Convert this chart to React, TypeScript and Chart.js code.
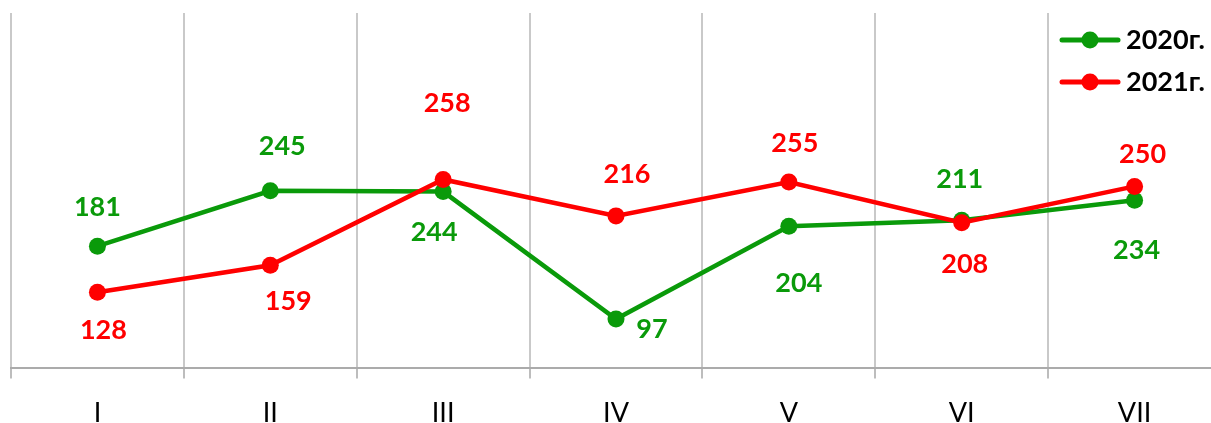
import React, { useEffect, useRef } from "react";
import { Chart, registerables } from "chart.js";

Chart.register(...registerables);

const categories = ["I", "II", "III", "IV", "V", "VI", "VII"];
const series2020 = [181, 245, 244, 97, 204, 211, 234];
const series2021 = [128, 159, 258, 216, 255, 208, 250];
const seriesNames = ["2020г.", "2021г."];

const GREEN = "#0a9a0a";
const RED = "#ff0000";
const FONT = "Lato, 'Open Sans', sans-serif";

// label placement (style): offset from point in px
const labelOffsets2020 = [[0, -39], [12, -44], [-9, 41], [36, 10], [10, 57], [-2, -41], [2, 50]];
const labelOffsets2021 = [[6, 38], [18, 36], [4, -76], [11, -42], [6, -39], [3, 41], [8, -32]];

const labelPlugin = {
  id: "valueLabels",
  afterDatasetsDraw(chart: any) {
    const ctx = chart.ctx;
    ctx.save();
    ctx.font = `bold 27px ${FONT}`;
    ctx.textAlign = "center";
    ctx.textBaseline = "middle";
    chart.data.datasets.forEach((ds: any, di: number) => {
      const meta = chart.getDatasetMeta(di);
      const offs = di === 0 ? labelOffsets2020 : labelOffsets2021;
      ctx.fillStyle = ds.borderColor;
      meta.data.forEach((pt: any, i: number) => {
        const o = offs[i];
        ctx.fillText(String(ds.data[i]), pt.x + o[0], pt.y + o[1]);
      });
    });
    ctx.restore();
  },
};

const legendPlugin = {
  id: "customLegend",
  afterDraw(chart: any) {
    const ctx = chart.ctx;
    ctx.save();
    const x0 = 1062;
    const x1 = 1118;
    const rows = [40, 82];
    chart.data.datasets.forEach((ds: any, di: number) => {
      const y = rows[di];
      ctx.strokeStyle = ds.borderColor;
      ctx.lineWidth = 5;
      ctx.lineCap = "round";
      ctx.beginPath();
      ctx.moveTo(x0, y);
      ctx.lineTo(x1, y);
      ctx.stroke();
      ctx.fillStyle = ds.borderColor;
      ctx.beginPath();
      ctx.arc((x0 + x1) / 2, y, 8.5, 0, Math.PI * 2);
      ctx.fill();
      ctx.fillStyle = "#000";
      ctx.font = `bold 27px ${FONT}`;
      ctx.textAlign = "left";
      ctx.textBaseline = "middle";
      ctx.fillText(ds.label, 1126, y);
    });
    ctx.restore();
  },
};

export default function App() {
  const ref = useRef<HTMLCanvasElement>(null);
  useEffect(() => {
    if (!ref.current) return;
    const chart = new Chart(ref.current, {
      type: "line",
      data: {
        labels: categories,
        datasets: [
          {
            label: seriesNames[0],
            data: series2020,
            borderColor: GREEN,
            backgroundColor: GREEN,
            pointBackgroundColor: GREEN,
            pointBorderWidth: 0,
            pointRadius: 8.5,
            borderWidth: 4.5,
            tension: 0,
            order: 2,
          },
          {
            label: seriesNames[1],
            data: series2021,
            borderColor: RED,
            backgroundColor: RED,
            pointBackgroundColor: RED,
            pointBorderWidth: 0,
            pointRadius: 8.5,
            borderWidth: 4.5,
            tension: 0,
            order: 1,
          },
        ],
      },
      options: {
        responsive: false,
        animation: false,
        devicePixelRatio: 1,
        layout: { padding: { left: 11, right: 11, top: 13, bottom: 0 } },
        plugins: {
          legend: { display: false },
          tooltip: { enabled: false },
        },
        scales: {
          x: {
            offset: true,
            grid: {
              offset: true,
              display: true,
              color: "#c9c9c9",
              lineWidth: 2,
              drawTicks: true,
              tickLength: 11,
              tickColor: "#bdbdbd",
            },
            border: { display: true, color: "#ababab", width: 2 },
            ticks: {
              color: "#000",
              padding: 18.5,
              font: { family: FONT, size: 27 },
            },
          },
          y: {
            display: false,
            min: 41,
            max: 450,
          },
        },
      },
      plugins: [labelPlugin, legendPlugin],
    });
    return () => chart.destroy();
  }, []);
  return (
    <div
      style={{
        position: "fixed",
        left: 0,
        top: 0,
        width: 1211,
        height: 423,
        overflow: "hidden",
        background: "#fff",
      }}
    >
      <canvas ref={ref} width={1232} height={448} style={{ display: "block" }} />
    </div>
  );
}
